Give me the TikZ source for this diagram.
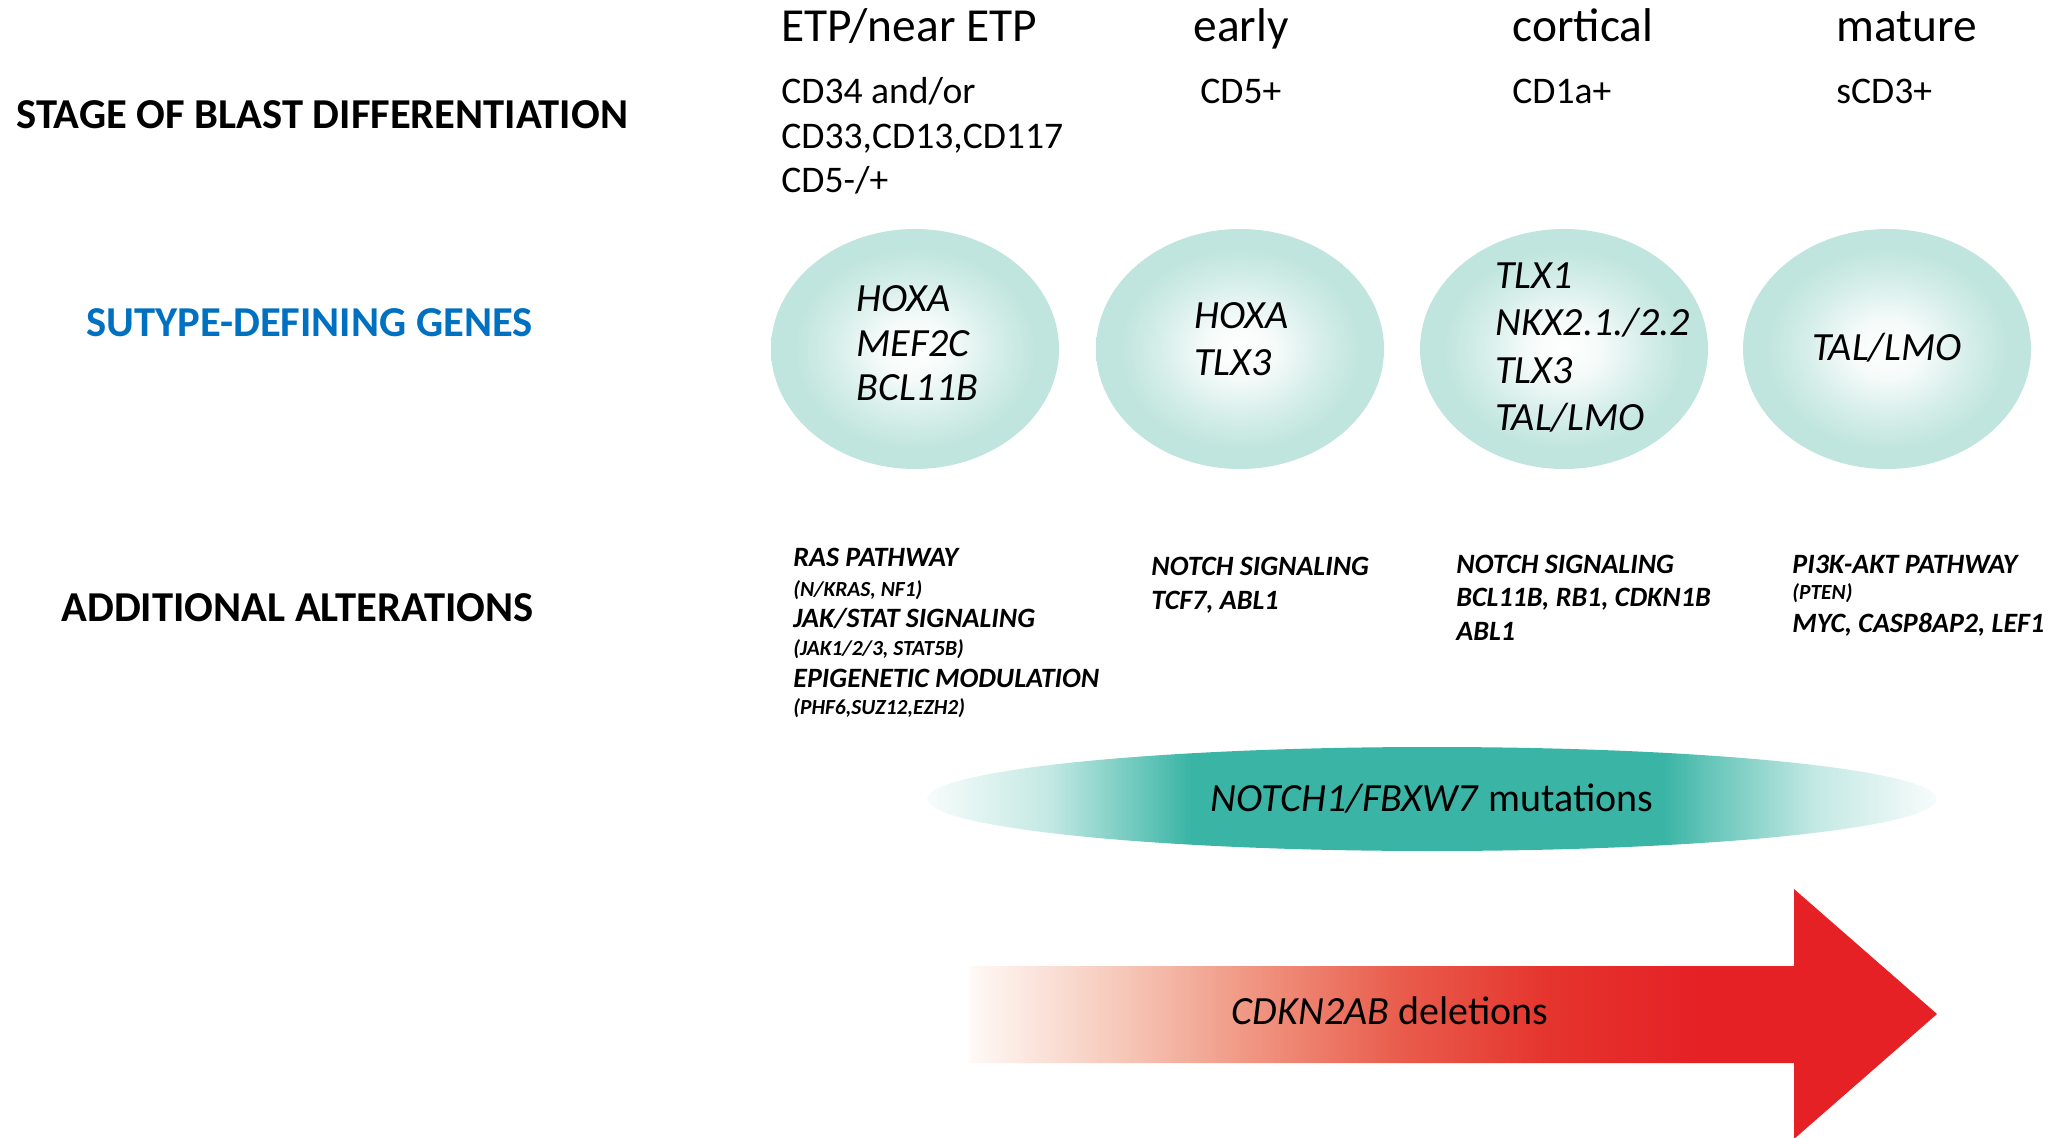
\documentclass[tikz,border=0pt]{standalone}
\usepackage{fontspec}
\setmainfont{Carlito}
\usetikzlibrary{shapes.geometric}
\definecolor{cellteal}{RGB}{192,229,222}
\definecolor{notchteal}{RGB}{58,181,165}
\definecolor{arrowred}{RGB}{229,33,38}
\definecolor{headblue}{RGB}{0,112,192}
\definecolor{r1}{RGB}{254,248,245}
\definecolor{r2}{RGB}{246,200,185}
\definecolor{r3}{RGB}{240,150,130}
\definecolor{r4}{RGB}{233,92,76}
\definecolor{r5}{RGB}{229,52,45}
\pgfdeclareradialshading{cellshade}{\pgfpoint{0bp}{0bp}}{color(0bp)=(white); color(6bp)=(cellteal!15!white); color(14bp)=(cellteal!65!white); color(21bp)=(cellteal); color(50bp)=(cellteal)}
\pgfdeclarehorizontalshading{notchshade}{100bp}{color(0bp)=(white); color(25bp)=(notchteal!4!white); color(31bp)=(notchteal!30!white); color(36bp)=(notchteal!80!white); color(38bp)=(notchteal); color(61.5bp)=(notchteal); color(63.5bp)=(notchteal!80!white); color(69bp)=(notchteal!30!white); color(75bp)=(notchteal!4!white); color(100bp)=(white)}
\pgfdeclarehorizontalshading{arrowshade}{100bp}{color(0bp)=(white); color(25bp)=(white); color(25.3bp)=(r1); color(32.9bp)=(r2); color(39.6bp)=(r3); color(47.3bp)=(r4); color(55bp)=(r5); color(62.8bp)=(arrowred); color(100bp)=(arrowred)}
\tikzset{
  toplabel/.style={font=\fontsize{23.7}{28}\selectfont, anchor=base west, inner sep=0pt},
  marker/.style={font=\fontsize{18.8}{22}\selectfont, anchor=base west, inner sep=0pt},
  header/.style={font=\bfseries\fontsize{21.3}{25}\selectfont, anchor=west, inner sep=0pt},
  gene/.style={font=\itshape\fontsize{20}{24}\selectfont, anchor=base west, inner sep=0pt},
  alt/.style={font=\bfseries\itshape\fontsize{14}{17}\selectfont, anchor=base west, inner sep=0pt},
  altsmall/.style={font=\bfseries\itshape\fontsize{10.75}{13}\selectfont, anchor=base west, inner sep=0pt},
  cell/.style={ellipse, shading=cellshade, minimum width=144pt, minimum height=120pt, inner sep=0pt},
  band/.style={font=\fontsize{20}{24}\selectfont, inner sep=0pt}
}
\begin{document}
\begin{tikzpicture}[x=0.5pt,y=-0.5pt]
\useasboundingbox (0,0) rectangle (2049,1138);
% left headers
\node[header] (h1) at (16,115) {STAGE OF BLAST DIFFERENTIATION};
\node[header, text=headblue] (h2) at (86,323) {SUTYPE-DEFINING GENES};
\node[header] (h3) at (61,608) {ADDITIONAL ALTERATIONS};
% stage labels
\node[toplabel] (s1) at (781,42) {ETP/near ETP};
\node[toplabel] (s2) at (1193,42) {early};
\node[toplabel] (s3) at (1512,42) {cortical};
\node[toplabel] (s4) at (1836,42) {mature};
\node[marker] (m1a) at (781,104) {CD34 and/or};
\node[marker] (m1b) at (781,149) {CD33,CD13,CD117};
\node[marker] (m1c) at (781,193) {CD5-/+};
\node[marker] (m2) at (1200,104) {CD5+};
\node[marker] (m3) at (1512,104) {CD1a+};
\node[marker] (m4) at (1836,104) {sCD3+};
% cells
\node[cell] (c1) at (915,349) {};
\node[cell] (c2) at (1240,349) {};
\node[cell] (c3) at (1564,349) {};
\node[cell] (c4) at (1887,349) {};
\node[gene] (g1a) at (856,312) {HOXA};
\node[gene] (g1b) at (856,357) {MEF2C};
\node[gene] (g1c) at (856,401) {BCL11B};
\node[gene] (g2a) at (1194,329) {HOXA};
\node[gene] (g2b) at (1194,376) {TLX3};
\node[gene] (g3a) at (1495,289) {TLX1};
\node[gene] (g3b) at (1495,336) {NKX2.1./2.2};
\node[gene] (g3c) at (1495,384) {TLX3};
\node[gene] (g3d) at (1495,431) {TAL/LMO};
\node[gene, anchor=center] (g4) at (1887,348) {TAL/LMO};
% alterations
\node[alt] (a1) at (793,567) {RAS PATHWAY};
\node[altsmall] (a1s) at (793,596) {(N/KRAS, NF1)};
\node[alt] (a2) at (793,627) {JAK/STAT SIGNALING};
\node[altsmall] (a2s) at (793,655) {(JAK1/2/3, STAT5B)};
\node[alt] (a3) at (793,687) {EPIGENETIC MODULATION};
\node[altsmall] (a3s) at (793,714) {(PHF6,SUZ12,EZH2)};
\node[alt] (b1) at (1151,575) {NOTCH SIGNALING};
\node[alt] (b2) at (1151,609) {TCF7, ABL1};
\node[alt] (d1) at (1456,574) {NOTCH SIGNALING};
\node[alt] (d2) at (1456,606) {BCL11B, RB1, CDKN1B};
\node[alt] (d3) at (1456,640) {ABL1};
\node[alt] (e1) at (1792,574) {PI3K-AKT PATHWAY};
\node[altsmall] (e1s) at (1792,599) {(PTEN)};
\node[alt] (e2) at (1792,632) {MYC, CASP8AP2, LEF1};
% NOTCH band
\node[ellipse, shading=notchshade, minimum width=504.5pt, minimum height=52pt, inner sep=0pt] (notch) at (1432,799) {};
\node[band] (notcht) at (1432,799) {\textit{NOTCH1/FBXW7} mutations};
% CDKN2AB arrow
\shade[shading=arrowshade] (967,966) -- (1794,966) -- (1794,889) -- (1937,1014) -- (1794,1139) -- (1794,1063) -- (967,1063) -- cycle;
\node[band] (cdkn) at (1390,1011) {\textit{CDKN2AB} deletions};
\end{tikzpicture}
\end{document}
